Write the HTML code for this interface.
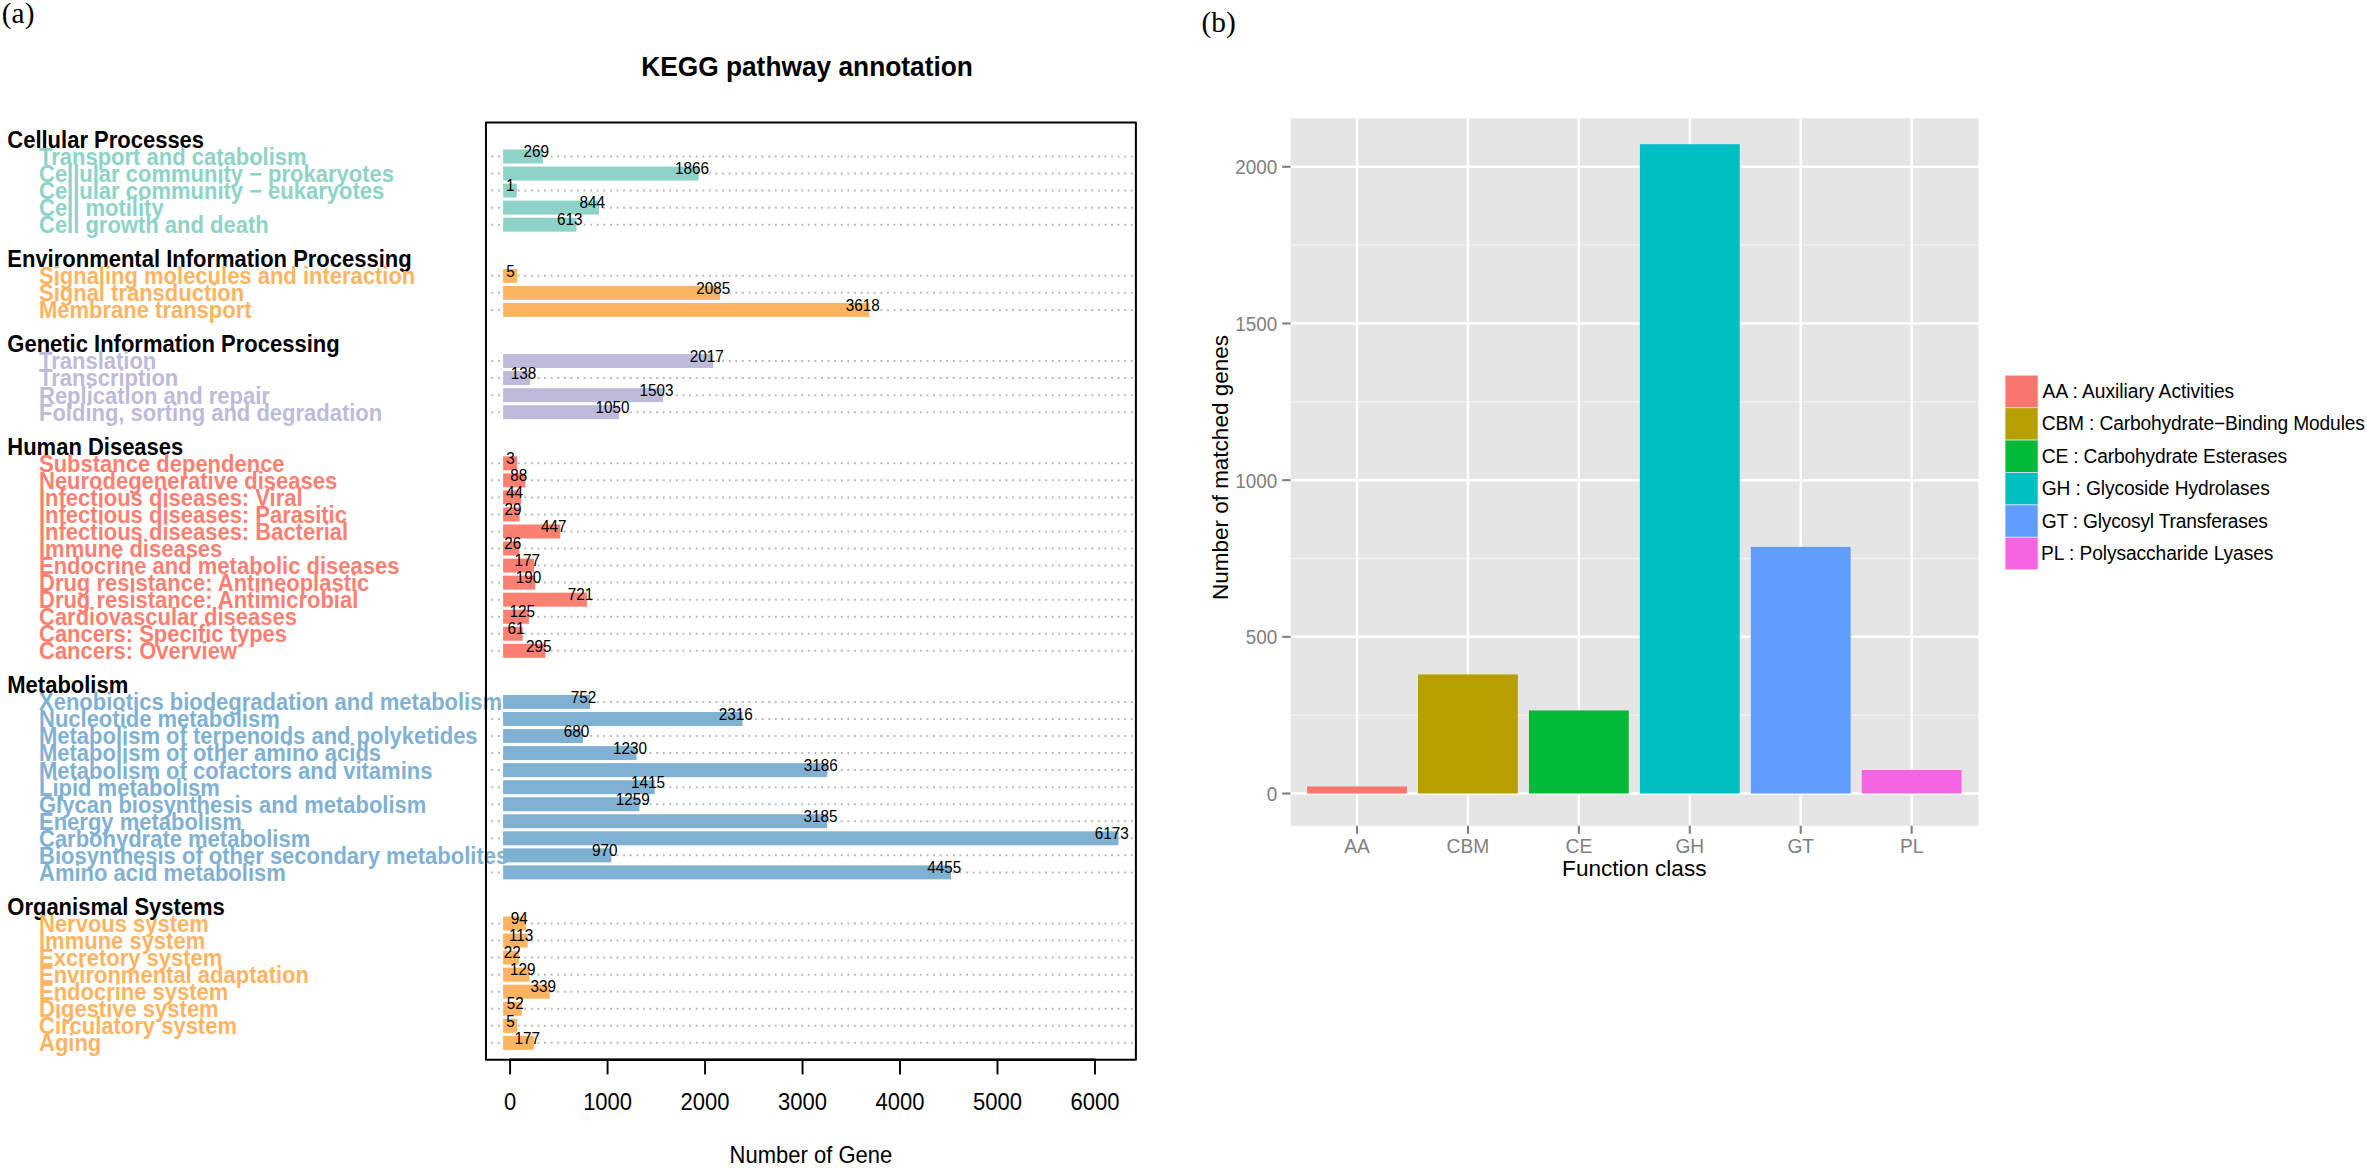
<!DOCTYPE html>
<html lang="en"><head><meta charset="utf-8"><title>KEGG pathway annotation / CAZy function class</title>
<style>html,body{margin:0;padding:0;background:#fff;overflow:hidden}svg{display:block}text{font-family:"Liberation Sans",Arial,Helvetica,sans-serif}.ser{font-family:"Liberation Serif","Times New Roman",serif}.b{font-weight:bold}.g{fill:#7F7F7F}</style></head><body>
<svg width="2367" height="1168" viewBox="0 0 2367 1168" role="img" aria-label="KEGG pathway annotation bar chart and CAZy function class bar chart">
<rect width="2367" height="1168" fill="#fff"/>
<text class="ser" x="1.8" y="22.9" font-size="29.4">(a)</text>
<text class="ser" x="1201.5" y="31.7" font-size="29.4">(b)</text>
<text transform="translate(807.00 76.30) scale(1 1.06)" class="b" font-size="26.3" text-anchor="middle">KEGG pathway annotation</text>
<g class="b" font-size="22">
<text transform="translate(7.30 147.85) scale(1 1.06)">Cellular Processes</text>
<text transform="translate(7.30 267.17) scale(1 1.06)">Environmental Information Processing</text>
<text transform="translate(7.30 352.39) scale(1 1.06)">Genetic Information Processing</text>
<text transform="translate(7.30 454.67) scale(1 1.06)">Human Diseases</text>
<text transform="translate(7.30 693.30) scale(1 1.06)">Metabolism</text>
<text transform="translate(7.30 914.88) scale(1 1.06)">Organismal Systems</text>
<text transform="translate(39.00 164.90) scale(1 1.06)" fill="#8DD3C7">Transport and catabolism</text>
<text transform="translate(39.00 181.95) scale(1 1.06)" fill="#8DD3C7">Cellular community − prokaryotes</text>
<text transform="translate(39.00 198.99) scale(1 1.06)" fill="#8DD3C7">Cellular community − eukaryotes</text>
<text transform="translate(39.00 216.03) scale(1 1.06)" fill="#8DD3C7">Cell motility</text>
<text transform="translate(39.00 233.08) scale(1 1.06)" fill="#8DD3C7">Cell growth and death</text>
<text transform="translate(39.00 284.21) scale(1 1.06)" fill="#FDB462">Signaling molecules and interaction</text>
<text transform="translate(39.00 301.26) scale(1 1.06)" fill="#FDB462">Signal transduction</text>
<text transform="translate(39.00 318.31) scale(1 1.06)" fill="#FDB462">Membrane transport</text>
<text transform="translate(39.00 369.44) scale(1 1.06)" fill="#BEBADA">Translation</text>
<text transform="translate(39.00 386.49) scale(1 1.06)" fill="#BEBADA">Transcription</text>
<text transform="translate(39.00 403.53) scale(1 1.06)" fill="#BEBADA">Replication and repair</text>
<text transform="translate(39.00 420.57) scale(1 1.06)" fill="#BEBADA">Folding, sorting and degradation</text>
<text transform="translate(39.00 471.71) scale(1 1.06)" fill="#FB8072">Substance dependence</text>
<text transform="translate(39.00 488.75) scale(1 1.06)" fill="#FB8072">Neurodegenerative diseases</text>
<text transform="translate(39.00 505.80) scale(1 1.06)" fill="#FB8072">Infectious diseases: Viral</text>
<text transform="translate(39.00 522.85) scale(1 1.06)" fill="#FB8072">Infectious diseases: Parasitic</text>
<text transform="translate(39.00 539.89) scale(1 1.06)" fill="#FB8072">Infectious diseases: Bacterial</text>
<text transform="translate(39.00 556.94) scale(1 1.06)" fill="#FB8072">Immune diseases</text>
<text transform="translate(39.00 573.98) scale(1 1.06)" fill="#FB8072">Endocrine and metabolic diseases</text>
<text transform="translate(39.00 591.02) scale(1 1.06)" fill="#FB8072">Drug resistance: Antineoplastic</text>
<text transform="translate(39.00 608.07) scale(1 1.06)" fill="#FB8072">Drug resistance: Antimicrobial</text>
<text transform="translate(39.00 625.12) scale(1 1.06)" fill="#FB8072">Cardiovascular diseases</text>
<text transform="translate(39.00 642.16) scale(1 1.06)" fill="#FB8072">Cancers: Specific types</text>
<text transform="translate(39.00 659.21) scale(1 1.06)" fill="#FB8072">Cancers: Overview</text>
<text transform="translate(39.00 710.34) scale(1 1.06)" fill="#80B1D3">Xenobiotics biodegradation and metabolism</text>
<text transform="translate(39.00 727.38) scale(1 1.06)" fill="#80B1D3">Nucleotide metabolism</text>
<text transform="translate(39.00 744.43) scale(1 1.06)" fill="#80B1D3">Metabolism of terpenoids and polyketides</text>
<text transform="translate(39.00 761.48) scale(1 1.06)" fill="#80B1D3">Metabolism of other amino acids</text>
<text transform="translate(39.00 778.52) scale(1 1.06)" fill="#80B1D3">Metabolism of cofactors and vitamins</text>
<text transform="translate(39.00 795.57) scale(1 1.06)" fill="#80B1D3">Lipid metabolism</text>
<text transform="translate(39.00 812.61) scale(1 1.06)" fill="#80B1D3">Glycan biosynthesis and metabolism</text>
<text transform="translate(39.00 829.66) scale(1 1.06)" fill="#80B1D3">Energy metabolism</text>
<text transform="translate(39.00 846.70) scale(1 1.06)" fill="#80B1D3">Carbohydrate metabolism</text>
<text transform="translate(39.00 863.75) scale(1 1.06)" fill="#80B1D3">Biosynthesis of other secondary metabolites</text>
<text transform="translate(39.00 880.79) scale(1 1.06)" fill="#80B1D3">Amino acid metabolism</text>
<text transform="translate(39.00 931.93) scale(1 1.06)" fill="#FDB462">Nervous system</text>
<text transform="translate(39.00 948.97) scale(1 1.06)" fill="#FDB462">Immune system</text>
<text transform="translate(39.00 966.02) scale(1 1.06)" fill="#FDB462">Excretory system</text>
<text transform="translate(39.00 983.06) scale(1 1.06)" fill="#FDB462">Environmental adaptation</text>
<text transform="translate(39.00 1000.11) scale(1 1.06)" fill="#FDB462">Endocrine system</text>
<text transform="translate(39.00 1017.15) scale(1 1.06)" fill="#FDB462">Digestive system</text>
<text transform="translate(39.00 1034.20) scale(1 1.06)" fill="#FDB462">Circulatory system</text>
<text transform="translate(39.00 1051.24) scale(1 1.06)" fill="#FDB462">Aging</text>
</g>
<g stroke="#B9B9B9" stroke-width="2" stroke-dasharray="1.9 4.693" fill="none">
<path d="M491.35 156.50H1135.9"/>
<path d="M491.35 173.55H1135.9"/>
<path d="M491.35 190.59H1135.9"/>
<path d="M491.35 207.63H1135.9"/>
<path d="M491.35 224.68H1135.9"/>
<path d="M491.35 275.81H1135.9"/>
<path d="M491.35 292.86H1135.9"/>
<path d="M491.35 309.91H1135.9"/>
<path d="M491.35 361.04H1135.9"/>
<path d="M491.35 378.09H1135.9"/>
<path d="M491.35 395.13H1135.9"/>
<path d="M491.35 412.18H1135.9"/>
<path d="M491.35 463.31H1135.9"/>
<path d="M491.35 480.36H1135.9"/>
<path d="M491.35 497.40H1135.9"/>
<path d="M491.35 514.45H1135.9"/>
<path d="M491.35 531.49H1135.9"/>
<path d="M491.35 548.54H1135.9"/>
<path d="M491.35 565.58H1135.9"/>
<path d="M491.35 582.62H1135.9"/>
<path d="M491.35 599.67H1135.9"/>
<path d="M491.35 616.72H1135.9"/>
<path d="M491.35 633.76H1135.9"/>
<path d="M491.35 650.81H1135.9"/>
<path d="M491.35 701.94H1135.9"/>
<path d="M491.35 718.99H1135.9"/>
<path d="M491.35 736.03H1135.9"/>
<path d="M491.35 753.08H1135.9"/>
<path d="M491.35 770.12H1135.9"/>
<path d="M491.35 787.17H1135.9"/>
<path d="M491.35 804.21H1135.9"/>
<path d="M491.35 821.26H1135.9"/>
<path d="M491.35 838.30H1135.9"/>
<path d="M491.35 855.35H1135.9"/>
<path d="M491.35 872.39H1135.9"/>
<path d="M491.35 923.53H1135.9"/>
<path d="M491.35 940.57H1135.9"/>
<path d="M491.35 957.62H1135.9"/>
<path d="M491.35 974.66H1135.9"/>
<path d="M491.35 991.71H1135.9"/>
<path d="M491.35 1008.75H1135.9"/>
<path d="M491.35 1025.80H1135.9"/>
<path d="M491.35 1042.84H1135.9"/>
</g>
<rect x="503.10" y="149.50" width="39.82" height="14.0" fill="#8DD3C7"/>
<rect x="503.10" y="166.55" width="195.50" height="14.0" fill="#8DD3C7"/>
<rect x="503.10" y="183.59" width="13.70" height="14.0" fill="#8DD3C7"/>
<rect x="503.10" y="200.63" width="95.87" height="14.0" fill="#8DD3C7"/>
<rect x="503.10" y="217.68" width="73.36" height="14.0" fill="#8DD3C7"/>
<rect x="503.10" y="268.81" width="14.09" height="14.0" fill="#FDB462"/>
<rect x="503.10" y="285.86" width="216.85" height="14.0" fill="#FDB462"/>
<rect x="503.10" y="302.91" width="366.28" height="14.0" fill="#FDB462"/>
<rect x="503.10" y="354.04" width="210.22" height="14.0" fill="#BEBADA"/>
<rect x="503.10" y="371.09" width="27.05" height="14.0" fill="#BEBADA"/>
<rect x="503.10" y="388.13" width="160.11" height="14.0" fill="#BEBADA"/>
<rect x="503.10" y="405.18" width="115.95" height="14.0" fill="#BEBADA"/>
<rect x="503.10" y="456.31" width="13.89" height="14.0" fill="#FB8072"/>
<rect x="503.10" y="473.36" width="22.18" height="14.0" fill="#FB8072"/>
<rect x="503.10" y="490.40" width="17.89" height="14.0" fill="#FB8072"/>
<rect x="503.10" y="507.45" width="16.43" height="14.0" fill="#FB8072"/>
<rect x="503.10" y="524.49" width="57.17" height="14.0" fill="#FB8072"/>
<rect x="503.10" y="541.54" width="16.13" height="14.0" fill="#FB8072"/>
<rect x="503.10" y="558.58" width="30.85" height="14.0" fill="#FB8072"/>
<rect x="503.10" y="575.62" width="32.12" height="14.0" fill="#FB8072"/>
<rect x="503.10" y="592.67" width="83.88" height="14.0" fill="#FB8072"/>
<rect x="503.10" y="609.72" width="25.78" height="14.0" fill="#FB8072"/>
<rect x="503.10" y="626.76" width="19.55" height="14.0" fill="#FB8072"/>
<rect x="503.10" y="643.81" width="42.36" height="14.0" fill="#FB8072"/>
<rect x="503.10" y="694.94" width="86.90" height="14.0" fill="#80B1D3"/>
<rect x="503.10" y="711.99" width="239.36" height="14.0" fill="#80B1D3"/>
<rect x="503.10" y="729.03" width="79.89" height="14.0" fill="#80B1D3"/>
<rect x="503.10" y="746.08" width="133.50" height="14.0" fill="#80B1D3"/>
<rect x="503.10" y="763.12" width="324.17" height="14.0" fill="#80B1D3"/>
<rect x="503.10" y="780.17" width="151.53" height="14.0" fill="#80B1D3"/>
<rect x="503.10" y="797.21" width="136.33" height="14.0" fill="#80B1D3"/>
<rect x="503.10" y="814.26" width="324.07" height="14.0" fill="#80B1D3"/>
<rect x="503.10" y="831.30" width="615.34" height="14.0" fill="#80B1D3"/>
<rect x="503.10" y="848.35" width="108.16" height="14.0" fill="#80B1D3"/>
<rect x="503.10" y="865.39" width="447.87" height="14.0" fill="#80B1D3"/>
<rect x="503.10" y="916.53" width="22.76" height="14.0" fill="#FDB462"/>
<rect x="503.10" y="933.57" width="24.62" height="14.0" fill="#FDB462"/>
<rect x="503.10" y="950.62" width="15.74" height="14.0" fill="#FDB462"/>
<rect x="503.10" y="967.66" width="26.17" height="14.0" fill="#FDB462"/>
<rect x="503.10" y="984.71" width="46.65" height="14.0" fill="#FDB462"/>
<rect x="503.10" y="1001.75" width="18.67" height="14.0" fill="#FDB462"/>
<rect x="503.10" y="1018.80" width="14.09" height="14.0" fill="#FDB462"/>
<rect x="503.10" y="1035.84" width="30.85" height="14.0" fill="#FDB462"/>
<g font-size="15.3" text-anchor="middle">
<text transform="translate(536.32 157.20) scale(1 1.07)">269</text>
<text transform="translate(692.00 174.25) scale(1 1.07)">1866</text>
<text transform="translate(510.20 191.29) scale(1 1.07)">1</text>
<text transform="translate(592.37 208.33) scale(1 1.07)">844</text>
<text transform="translate(569.86 225.38) scale(1 1.07)">613</text>
<text transform="translate(510.59 276.51) scale(1 1.07)">5</text>
<text transform="translate(713.35 293.56) scale(1 1.07)">2085</text>
<text transform="translate(862.78 310.61) scale(1 1.07)">3618</text>
<text transform="translate(706.72 361.74) scale(1 1.07)">2017</text>
<text transform="translate(523.55 378.79) scale(1 1.07)">138</text>
<text transform="translate(656.61 395.83) scale(1 1.07)">1503</text>
<text transform="translate(612.45 412.88) scale(1 1.07)">1050</text>
<text transform="translate(510.39 464.01) scale(1 1.07)">3</text>
<text transform="translate(518.68 481.06) scale(1 1.07)">88</text>
<text transform="translate(514.39 498.10) scale(1 1.07)">44</text>
<text transform="translate(512.93 515.15) scale(1 1.07)">29</text>
<text transform="translate(553.67 532.19) scale(1 1.07)">447</text>
<text transform="translate(512.63 549.24) scale(1 1.07)">26</text>
<text transform="translate(527.35 566.28) scale(1 1.07)">177</text>
<text transform="translate(528.62 583.33) scale(1 1.07)">190</text>
<text transform="translate(580.38 600.37) scale(1 1.07)">721</text>
<text transform="translate(522.28 617.42) scale(1 1.07)">125</text>
<text transform="translate(516.05 634.46) scale(1 1.07)">61</text>
<text transform="translate(538.86 651.51) scale(1 1.07)">295</text>
<text transform="translate(583.40 702.64) scale(1 1.07)">752</text>
<text transform="translate(735.86 719.69) scale(1 1.07)">2316</text>
<text transform="translate(576.39 736.73) scale(1 1.07)">680</text>
<text transform="translate(630.00 753.78) scale(1 1.07)">1230</text>
<text transform="translate(820.67 770.82) scale(1 1.07)">3186</text>
<text transform="translate(648.03 787.87) scale(1 1.07)">1415</text>
<text transform="translate(632.83 804.91) scale(1 1.07)">1259</text>
<text transform="translate(820.57 821.96) scale(1 1.07)">3185</text>
<text transform="translate(1111.84 839.00) scale(1 1.07)">6173</text>
<text transform="translate(604.66 856.05) scale(1 1.07)">970</text>
<text transform="translate(944.37 873.09) scale(1 1.07)">4455</text>
<text transform="translate(519.26 924.23) scale(1 1.07)">94</text>
<text transform="translate(521.12 941.27) scale(1 1.07)">113</text>
<text transform="translate(512.24 958.32) scale(1 1.07)">22</text>
<text transform="translate(522.67 975.36) scale(1 1.07)">129</text>
<text transform="translate(543.15 992.41) scale(1 1.07)">339</text>
<text transform="translate(515.17 1009.45) scale(1 1.07)">52</text>
<text transform="translate(510.59 1026.50) scale(1 1.07)">5</text>
<text transform="translate(527.35 1043.54) scale(1 1.07)">177</text>
</g>
<rect x="485.95" y="122.6" width="649.95" height="937.2499999999999" fill="none" stroke="#000" stroke-width="2" stroke-linejoin="round"/>
<path d="M510.10 1059.75H1094.98" stroke="#000" stroke-width="2.4" stroke-linecap="round"/>
<g stroke="#000" stroke-width="1.9">
<path d="M510.10 1059.85V1074.4"/>
<path d="M607.58 1059.85V1074.4"/>
<path d="M705.06 1059.85V1074.4"/>
<path d="M802.54 1059.85V1074.4"/>
<path d="M900.02 1059.85V1074.4"/>
<path d="M997.50 1059.85V1074.4"/>
<path d="M1094.98 1059.85V1074.4"/>
</g>
<g font-size="22.0" text-anchor="middle">
<text transform="translate(510.10 1109.90) scale(1 1.1)">0</text>
<text transform="translate(607.58 1109.90) scale(1 1.1)">1000</text>
<text transform="translate(705.06 1109.90) scale(1 1.1)">2000</text>
<text transform="translate(802.54 1109.90) scale(1 1.1)">3000</text>
<text transform="translate(900.02 1109.90) scale(1 1.1)">4000</text>
<text transform="translate(997.50 1109.90) scale(1 1.1)">5000</text>
<text transform="translate(1094.98 1109.90) scale(1 1.1)">6000</text>
<text transform="translate(810.90 1163.00) scale(1 1.065)">Number of Gene</text>
</g>
<rect x="1290.5" y="118.3" width="687.80" height="707.50" fill="#E5E5E5"/>
<g stroke="#F2F2F2" stroke-width="1.3">
<path d="M1290.5 715.16H1978.3"/>
<path d="M1290.5 558.49H1978.3"/>
<path d="M1290.5 401.81H1978.3"/>
<path d="M1290.5 245.14H1978.3"/>
</g>
<g stroke="#fff" stroke-width="2.5">
<path d="M1290.5 793.50H1978.3"/>
<path d="M1290.5 636.83H1978.3"/>
<path d="M1290.5 480.15H1978.3"/>
<path d="M1290.5 323.47H1978.3"/>
<path d="M1290.5 166.80H1978.3"/>
<path d="M1357.00 118.3V825.8"/>
<path d="M1467.93 118.3V825.8"/>
<path d="M1578.86 118.3V825.8"/>
<path d="M1689.79 118.3V825.8"/>
<path d="M1800.72 118.3V825.8"/>
<path d="M1911.65 118.3V825.8"/>
</g>
<rect x="1307.08" y="786.45" width="99.84" height="7.05" fill="#F8766D"/>
<rect x="1418.01" y="674.43" width="99.84" height="119.07" fill="#B79F00"/>
<rect x="1528.94" y="710.46" width="99.84" height="83.04" fill="#00BA38"/>
<rect x="1639.87" y="144.24" width="99.84" height="649.26" fill="#00BFC4"/>
<rect x="1750.80" y="546.89" width="99.84" height="246.61" fill="#619CFF"/>
<rect x="1861.73" y="770.00" width="99.84" height="23.50" fill="#F564E3"/>
<g stroke="#7F7F7F" stroke-width="2.1">
<path d="M1282.2 793.50H1290.5"/>
<path d="M1282.2 636.83H1290.5"/>
<path d="M1282.2 480.15H1290.5"/>
<path d="M1282.2 323.47H1290.5"/>
<path d="M1282.2 166.80H1290.5"/>
<path d="M1357.00 825.8V833.8"/>
<path d="M1467.93 825.8V833.8"/>
<path d="M1578.86 825.8V833.8"/>
<path d="M1689.79 825.8V833.8"/>
<path d="M1800.72 825.8V833.8"/>
<path d="M1911.65 825.8V833.8"/>
</g>
<g class="g" font-size="18.9" text-anchor="end">
<text transform="translate(1277.20 801.00) scale(1 1.03)">0</text>
<text transform="translate(1277.20 644.33) scale(1 1.03)">500</text>
<text transform="translate(1277.20 487.65) scale(1 1.03)">1000</text>
<text transform="translate(1277.20 330.97) scale(1 1.03)">1500</text>
<text transform="translate(1277.20 174.30) scale(1 1.03)">2000</text>
</g>
<g class="g" font-size="19.2" text-anchor="middle">
<text transform="translate(1357.00 853.00) scale(1 1.03)">AA</text>
<text transform="translate(1467.93 853.00) scale(1 1.03)">CBM</text>
<text transform="translate(1578.86 853.00) scale(1 1.03)">CE</text>
<text transform="translate(1689.79 853.00) scale(1 1.03)">GH</text>
<text transform="translate(1800.72 853.00) scale(1 1.03)">GT</text>
<text transform="translate(1911.65 853.00) scale(1 1.03)">PL</text>
</g>
<text transform="translate(1634.30 875.80) scale(1 0.95)" font-size="22.6" text-anchor="middle">Function class</text>
<text transform="translate(1227.9 467.6) rotate(-90) scale(1 0.98)" font-size="22.5" text-anchor="middle">Number of matched genes</text>
<rect x="2005.1" y="375.30" width="32.9" height="32.4" fill="#F8766D" stroke="#F2F2F2" stroke-opacity="0.6" stroke-width="1"/>
<rect x="2005.1" y="407.70" width="32.9" height="32.4" fill="#B79F00" stroke="#F2F2F2" stroke-opacity="0.6" stroke-width="1"/>
<rect x="2005.1" y="440.10" width="32.9" height="32.4" fill="#00BA38" stroke="#F2F2F2" stroke-opacity="0.6" stroke-width="1"/>
<rect x="2005.1" y="472.50" width="32.9" height="32.4" fill="#00BFC4" stroke="#F2F2F2" stroke-opacity="0.6" stroke-width="1"/>
<rect x="2005.1" y="504.90" width="32.9" height="32.4" fill="#619CFF" stroke="#F2F2F2" stroke-opacity="0.6" stroke-width="1"/>
<rect x="2005.1" y="537.30" width="32.9" height="32.4" fill="#F564E3" stroke="#F2F2F2" stroke-opacity="0.6" stroke-width="1"/>
<g font-size="19.2">
<text transform="translate(2042.60 398.00) scale(1 1.03)" textLength="191.6" lengthAdjust="spacing">AA : Auxiliary Activities</text>
<text transform="translate(2041.70 430.40) scale(1 1.03)" textLength="323.2" lengthAdjust="spacing">CBM : Carbohydrate−Binding Modules</text>
<text transform="translate(2041.70 462.80) scale(1 1.03)" textLength="245.4" lengthAdjust="spacing">CE : Carbohydrate Esterases</text>
<text transform="translate(2041.70 495.20) scale(1 1.03)" textLength="228.1" lengthAdjust="spacing">GH : Glycoside Hydrolases</text>
<text transform="translate(2041.70 527.60) scale(1 1.03)" textLength="226.1" lengthAdjust="spacing">GT : Glycosyl Transferases</text>
<text transform="translate(2041.10 560.00) scale(1 1.03)" textLength="232.3" lengthAdjust="spacing">PL : Polysaccharide Lyases</text>
</g>
</svg></body></html>
